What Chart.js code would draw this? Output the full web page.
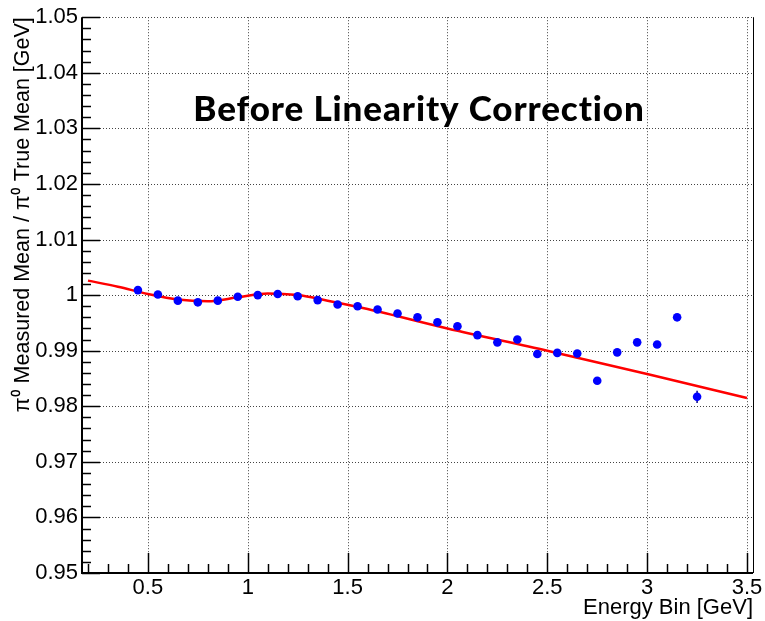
<!DOCTYPE html>
<html>
<head>
<meta charset="utf-8">
<script src="https://cdn.jsdelivr.net/npm/chart.js@4.4.0/dist/chart.umd.min.js"></script>
<style>
  html, body { margin: 0; padding: 0; background: #fff; }
  canvas { display: block; }
</style>
</head>
<body>
<canvas id="ratio-chart" width="765" height="621"></canvas>
<script>
// pi0 measured / true mean per energy bin
const energyBins = [0.45, 0.55, 0.65, 0.75, 0.85, 0.95, 1.05, 1.15, 1.25, 1.35,
  1.45, 1.55, 1.65, 1.75, 1.85, 1.95, 2.05, 2.15, 2.25, 2.35,
  2.45, 2.55, 2.65, 2.75, 2.85, 2.95, 3.05, 3.15, 3.25]
const measuredRatio = [1.0009, 1.0001, 0.9990, 0.9987, 0.9990, 0.9997, 1.0000, 1.0002, 0.9998, 0.9991,
  0.9983, 0.9980, 0.9974, 0.9967, 0.9960, 0.9951, 0.9944, 0.9928, 0.9915, 0.9920,
  0.9894, 0.9896, 0.9895, 0.9846, 0.9897, 0.9915, 0.9911, 0.9960, 0.9817]
const measuredErr = [0.0002, 0.0002, 0.0002, 0.0002, 0.0002, 0.0002, 0.0002, 0.0002, 0.0002, 0.0002,
  0.0002, 0.0002, 0.0002, 0.0002, 0.0002, 0.0003, 0.0003, 0.0003, 0.0003, 0.0003,
  0.0003, 0.0003, 0.0004, 0.0004, 0.0004, 0.0004, 0.0005, 0.0005, 0.0011]

// fitted curve
const fitX = [0.2, 0.35, 0.5, 0.65, 0.8, 0.95, 1.1, 1.25, 1.4, 1.6, 2.0, 2.5, 3.0, 3.5]
const fitY = [1.0026, 1.0015, 1.0002, 0.9992, 0.9989, 0.9996, 1.0003, 1.0000, 0.9990, 0.9975, 0.9940, 0.9900, 0.9858, 0.9815]

// axes
const xTicks = [0.5, 1, 1.5, 2, 2.5, 3, 3.5]
const xTickLabels = ['0.5', '1', '1.5', '2', '2.5', '3', '3.5']
const yTicks = [0.95, 0.96, 0.97, 0.98, 0.99, 1.0, 1.01, 1.02, 1.03, 1.04, 1.05]
const yTickLabels = ['0.95', '0.96', '0.97', '0.98', '0.99', '1', '1.01', '1.02', '1.03', '1.04', '1.05']

const chartTitle = 'Before Linearity Correction'
const xTitle = 'Energy Bin [GeV]'
const yTitle = 'π⁰ Measured Mean / π⁰ True Mean [GeV]'

const axisFont = { family: '"Liberation Sans", Arial, sans-serif', size: 22 }

// ROOT-style frame: dotted grid, inward ticks, error bars, title
const frame = {
  id: 'frame',
  beforeDatasetsDraw(chart) {
    const { ctx, chartArea: a } = chart
    const xs = chart.scales.x, ys = chart.scales.y
    ctx.save()
    ctx.strokeStyle = '#444'
    ctx.lineWidth = 1
    ctx.setLineDash([1, 2])
    xTicks.forEach(v => {
      const px = Math.round(xs.getPixelForValue(v)) + 0.5
      ctx.beginPath(); ctx.moveTo(px, a.top); ctx.lineTo(px, a.bottom); ctx.stroke()
    })
    yTicks.forEach(v => {
      const py = Math.round(ys.getPixelForValue(v)) + 0.5
      ctx.beginPath(); ctx.moveTo(a.left, py); ctx.lineTo(a.right, py); ctx.stroke()
    })
    ctx.setLineDash([])

    // ticks
    ctx.strokeStyle = '#000'
    ctx.lineWidth = 1.5
    for (let i = 0; i <= 50; i++) {
      const v = 0.95 + i * 0.002
      const py = Math.round(ys.getPixelForValue(v)) + 0.5
      const len = i % 5 === 0 ? 18 : 9
      ctx.beginPath(); ctx.moveTo(a.left, py); ctx.lineTo(a.left + len, py); ctx.stroke()
    }
    for (let i = 2; i <= 35; i++) {
      const v = i * 0.1
      const px = Math.round(xs.getPixelForValue(v)) + 0.5
      const len = i % 5 === 0 ? 20 : 9
      ctx.beginPath(); ctx.moveTo(px, a.bottom); ctx.lineTo(px, a.bottom - len); ctx.stroke()
    }

    // axis lines
    ctx.lineWidth = 2
    ctx.beginPath()
    ctx.moveTo(a.left, a.top); ctx.lineTo(a.left, a.bottom); ctx.lineTo(a.right, a.bottom)
    ctx.stroke()
    ctx.lineWidth = 1
    ctx.beginPath(); ctx.moveTo(a.right + 0.5, a.top); ctx.lineTo(a.right + 0.5, a.bottom); ctx.stroke()

    // error bars
    ctx.strokeStyle = '#00008b'
    ctx.lineWidth = 1.5
    energyBins.forEach((x, i) => {
      const px = xs.getPixelForValue(x)
      ctx.beginPath()
      ctx.moveTo(px, ys.getPixelForValue(measuredRatio[i] - measuredErr[i]))
      ctx.lineTo(px, ys.getPixelForValue(measuredRatio[i] + measuredErr[i]))
      ctx.stroke()
    })
    ctx.restore()
  },
  afterDraw(chart) {
    const { ctx } = chart
    ctx.save()
    ctx.fillStyle = '#000'
    ctx.font = '900 35px Lato, sans-serif'
    ctx.letterSpacing = '0.9px'
    ctx.textAlign = 'center'
    ctx.textBaseline = 'alphabetic'
    ctx.fillText(chartTitle, 419, 121)
    ctx.restore()
  }
}

const ctx = document.getElementById('ratio-chart').getContext('2d')
new Chart(ctx, {
  type: 'scatter',
  data: {
    datasets: [
      {
        label: 'data',
        data: energyBins.map((x, i) => ({ x: x, y: measuredRatio[i] })),
        backgroundColor: '#0000ff',
        borderColor: '#0000ff',
        pointRadius: 4.3,
        pointBorderWidth: 0,
        order: 0
      },
      {
        label: 'fit',
        data: fitX.map((x, i) => ({ x: x, y: fitY[i] })),
        showLine: true,
        cubicInterpolationMode: 'monotone',
        borderColor: '#ff0000',
        borderWidth: 2.5,
        pointRadius: 0,
        order: 1
      }
    ]
  },
  options: {
    responsive: false,
    animation: false,
    devicePixelRatio: 1,
    layout: { padding: { top: 17, right: 12, left: 0, bottom: 0 } },
    plugins: { legend: { display: false }, tooltip: { enabled: false } },
    scales: {
      x: {
        type: 'linear',
        min: 0.17,
        max: 3.53,
        afterBuildTicks: s => { s.ticks = xTicks.map(v => ({ value: v })) },
        afterFit: s => { s.height = 48 },
        grid: { display: false, drawTicks: false },
        border: { display: false },
        ticks: {
          autoSkip: false,
          maxRotation: 0,
          padding: 2,
          color: '#000',
          font: axisFont,
          callback: (v, i) => xTickLabels[i]
        },
        title: {
          display: true,
          text: xTitle,
          align: 'end',
          color: '#000',
          padding: 0,
          font: { family: axisFont.family, size: 22 }
        }
      },
      y: {
        type: 'linear',
        min: 0.95,
        max: 1.05,
        afterBuildTicks: s => { s.ticks = yTicks.map(v => ({ value: v })) },
        afterFit: s => { s.width = 82 },
        grid: { display: false, drawTicks: false },
        border: { display: false },
        ticks: {
          autoSkip: false,
          padding: 4,
          color: '#000',
          font: axisFont,
          callback: (v, i) => yTickLabels[i]
        },
        title: {
          display: true,
          text: yTitle,
          align: 'end',
          color: '#000',
          padding: { top: 10, bottom: 0 },
          font: { family: axisFont.family, size: 21.5 }
        }
      }
    }
  },
  plugins: [frame]
})
</script>
</body>
</html>
